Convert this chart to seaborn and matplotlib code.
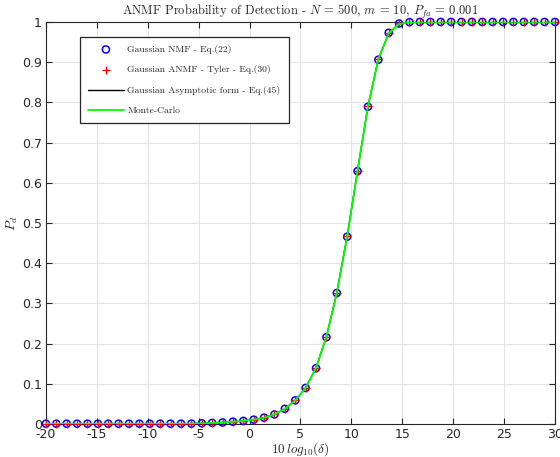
import numpy as np
import pandas as pd
import matplotlib
matplotlib.use("Agg")
import matplotlib.pyplot as plt
import seaborn as sns

# SNR grid, 10 log10(delta)
snr_db = [-20.00, -18.98, -17.96, -16.94, -15.92, -14.90, -13.88, -12.86, -11.84, -10.82,
          -9.80, -8.78, -7.76, -6.73, -5.71, -4.69, -3.67, -2.65, -1.63, -0.61,
          0.41, 1.43, 2.45, 3.47, 4.49, 5.51, 6.53, 7.55, 8.57, 9.59,
          10.61, 11.63, 12.65, 13.67, 14.69, 15.71, 16.73, 17.76, 18.78, 19.80,
          20.82, 21.84, 22.86, 23.88, 24.90, 25.92, 26.94, 27.96, 28.98, 30.00]

pd_nmf = [0.001, 0.001, 0.001, 0.001, 0.001, 0.001, 0.001, 0.001, 0.001, 0.001,
          0.001, 0.001, 0.001, 0.001, 0.0012, 0.002, 0.003, 0.004, 0.006, 0.008,
          0.011, 0.016, 0.024, 0.038, 0.059, 0.090, 0.139, 0.216, 0.326, 0.466,
          0.629, 0.789, 0.906, 0.973, 0.996, 0.9995, 1.0, 1.0, 1.0, 1.0,
          1.0, 1.0, 1.0, 1.0, 1.0, 1.0, 1.0, 1.0, 1.0, 1.0]
pd_tyler = [0.001, 0.001, 0.001, 0.001, 0.001, 0.001, 0.001, 0.001, 0.001, 0.001,
            0.001, 0.001, 0.001, 0.001, 0.0012, 0.002, 0.003, 0.004, 0.006, 0.008,
            0.011, 0.016, 0.024, 0.038, 0.059, 0.090, 0.140, 0.217, 0.326, 0.467,
            0.630, 0.790, 0.907, 0.972, 0.997, 0.9995, 1.0, 1.0, 1.0, 1.0,
            1.0, 1.0, 1.0, 1.0, 1.0, 1.0, 1.0, 1.0, 1.0, 1.0]
pd_asym = [0.001, 0.001, 0.001, 0.001, 0.001, 0.001, 0.001, 0.001, 0.001, 0.001,
           0.001, 0.001, 0.001, 0.001, 0.0012, 0.002, 0.003, 0.004, 0.006, 0.008,
           0.011, 0.016, 0.024, 0.038, 0.059, 0.090, 0.140, 0.217, 0.326, 0.467,
           0.630, 0.790, 0.907, 0.972, 0.995, 0.9995, 1.0, 1.0, 1.0, 1.0,
           1.0, 1.0, 1.0, 1.0, 1.0, 1.0, 1.0, 1.0, 1.0, 1.0]
pd_mc = [0.001, 0.001, 0.001, 0.001, 0.001, 0.001, 0.001, 0.001, 0.001, 0.001,
         0.001, 0.001, 0.001, 0.001, 0.0012, 0.002, 0.003, 0.004, 0.006, 0.008,
         0.011, 0.016, 0.024, 0.038, 0.059, 0.090, 0.140, 0.217, 0.326, 0.467,
         0.630, 0.790, 0.907, 0.972, 0.995, 0.9995, 1.0, 1.0, 1.0, 1.0,
         1.0, 1.0, 1.0, 1.0, 1.0, 1.0, 1.0, 1.0, 1.0, 1.0]

labels = ["Gaussian NMF - Eq.(22)",
          "Gaussian ANMF - Tyler - Eq.(30)",
          "Gaussian Asymptotic form - Eq.(45)",
          "Monte-Carlo"]

df = pd.DataFrame({"snr": snr_db, "nmf": pd_nmf, "tyler": pd_tyler,
                   "asym": pd_asym, "mc": pd_mc})

sns.set_style("ticks")
plt.rcParams["mathtext.fontset"] = "cm"
plt.rcParams["axes.unicode_minus"] = False

fig = plt.figure(figsize=(5.6, 4.57), dpi=100)
ax = fig.add_axes([0.082, 0.072, 0.909, 0.88])

sns.scatterplot(data=df, x="snr", y="nmf", ax=ax, marker="o", s=26,
                facecolor="none", edgecolor="blue", linewidth=1.1,
                label=labels[0], zorder=3, clip_on=False)
sns.scatterplot(data=df, x="snr", y="tyler", ax=ax, marker="+", s=40,
                color="red", linewidth=1.0, label=labels[1], zorder=4, clip_on=False)
sns.lineplot(data=df, x="snr", y="asym", ax=ax, color="black",
             linewidth=1.0, label=labels[2], zorder=2)
sns.lineplot(data=df, x="snr", y="mc", ax=ax, color="#00ff00",
             linewidth=1.3, label=labels[3], zorder=5)

ax.set_xlim(-20, 30)
ax.set_ylim(0, 1)
ax.set_xticks(range(-20, 31, 5))
ax.set_yticks([i / 10 for i in range(11)])
ax.set_yticklabels(["0", "0.1", "0.2", "0.3", "0.4", "0.5", "0.6", "0.7", "0.8", "0.9", "1"])
ax.tick_params(direction="in", top=True, right=True, labelsize=9, length=4, width=0.8, pad=3)
ax.grid(True, color="#e3e3e3", linewidth=0.8)
ax.set_axisbelow(True)
for sp in ax.spines.values():
    sp.set_linewidth(0.8)
    sp.set_color("#262626")

ax.set_xlabel(r"$10\,log_{10}(\delta)$", fontsize=9.5, labelpad=-1)
ax.set_ylabel(r"$P_d$", fontsize=10, labelpad=1)
ax.set_title(r"ANMF Probability of Detection - $N$ = 500, $m$ = 10, $P_{fa}$ = 0.001",
             fontsize=9, fontfamily="cmr10", pad=5)

leg = ax.legend(loc="upper left", bbox_to_anchor=(0.067, 0.963), fancybox=False,
                framealpha=1, edgecolor="#262626", prop={"family": "cmr10", "size": 6.9},
                handlelength=3.7, borderpad=0.85, labelspacing=1.2, handletextpad=0.4,
                borderaxespad=0)
leg.get_frame().set_linewidth(0.9)

fig.savefig("out.png", dpi=100)
